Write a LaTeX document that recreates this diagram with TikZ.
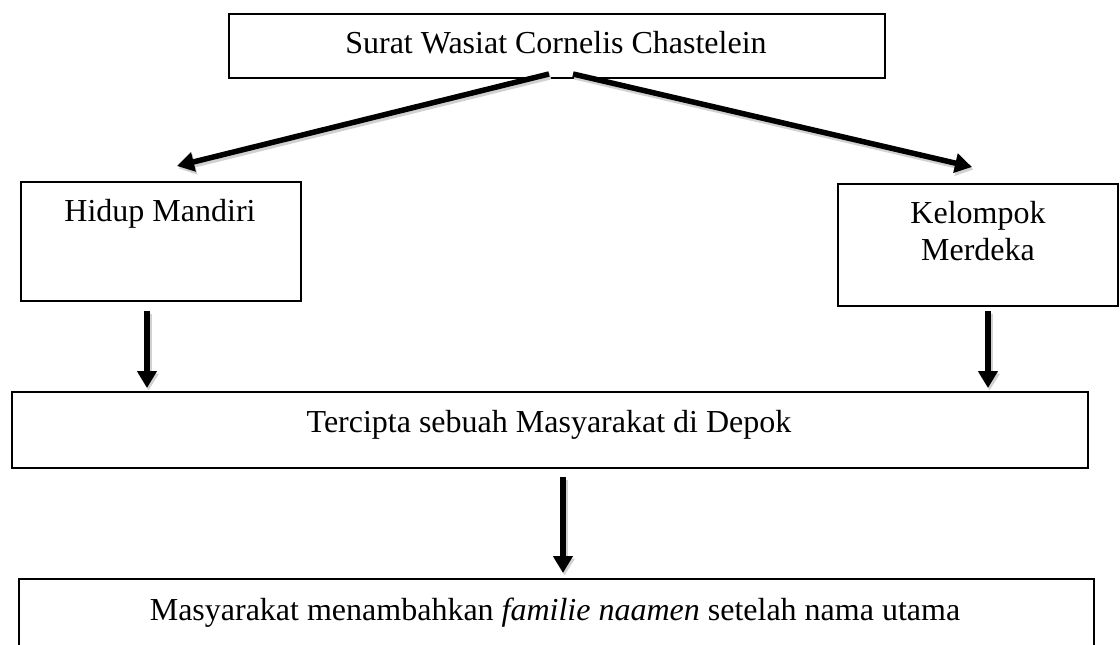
\documentclass[tikz,border=0pt]{standalone}
\usepackage{fontspec}
\setmainfont{Liberation Serif}
\usetikzlibrary{arrows.meta}
\begin{document}
\begin{tikzpicture}[x=1pt,y=-1pt,
  box/.style={draw, line width=1.6pt, inner sep=0pt, anchor=north west},
  txt/.style={anchor=base, inner sep=0pt, font=\fontsize{32}{37}\selectfont, align=center},
  arr/.style={line width=5.5pt, -{Triangle[length=17pt,width=19pt]}},
  arrshadow/.style={line width=6pt, draw=black!18, -{Triangle[length=17pt,width=20pt]}, transform canvas={shift={(1.5pt,-2.5pt)}}}]
\clip (0,0) rectangle (1120,645);
\fill[white] (0,0) rectangle (1120,645);
% boxes
\node[box, minimum width=656pt, minimum height=64pt] (top) at (228,13) {};
\node[box, minimum width=280pt, minimum height=119pt] (hm) at (20,181) {};
\node[box, minimum width=280pt, minimum height=122pt] (km) at (837,183) {};
\node[box, minimum width=1076pt, minimum height=76pt] (mid) at (11,391) {};
\node[box, minimum width=1075pt, minimum height=100pt] (bot) at (18,578) {};
% texts
\node[txt] (ttop) at (556,53) {Surat Wasiat Cornelis Chastelein};
\node[txt] (thm) at (160,221) {Hidup Mandiri};
\node[txt] (tkm) at (978,223) {\begin{tabular}[t]{@{}c@{}}Kelompok\\Merdeka\end{tabular}};
\node[txt] (tmid) at (549,432) {Tercipta sebuah Masyarakat di Depok};
\node[txt] (tbot) at (555,620) {Masyarakat menambahkan \textit{familie naamen} setelah nama utama};
% connector ends
\coordinate (l0) at (549,74);
\coordinate (l1) at (177,166);
\coordinate (r0) at (573,74);
\coordinate (r1) at (972,167);
\coordinate (a0) at (147,311);
\coordinate (a1) at (147,388);
\coordinate (b0) at (988,311);
\coordinate (b1) at (988,388);
\coordinate (c0) at (563,477);
\coordinate (c1) at (563,573);
\foreach \s/\e in {l0/l1, r0/r1, a0/a1, b0/b1, c0/c1}
  \draw[arrshadow] (\s) -- (\e);
\draw[arr] (l0) -- (l1);
\draw[arr] (r0) -- (r1);
\draw[arr] (a0) -- (a1);
\draw[arr] (b0) -- (b1);
\draw[arr] (c0) -- (c1);
\end{tikzpicture}
\end{document}
